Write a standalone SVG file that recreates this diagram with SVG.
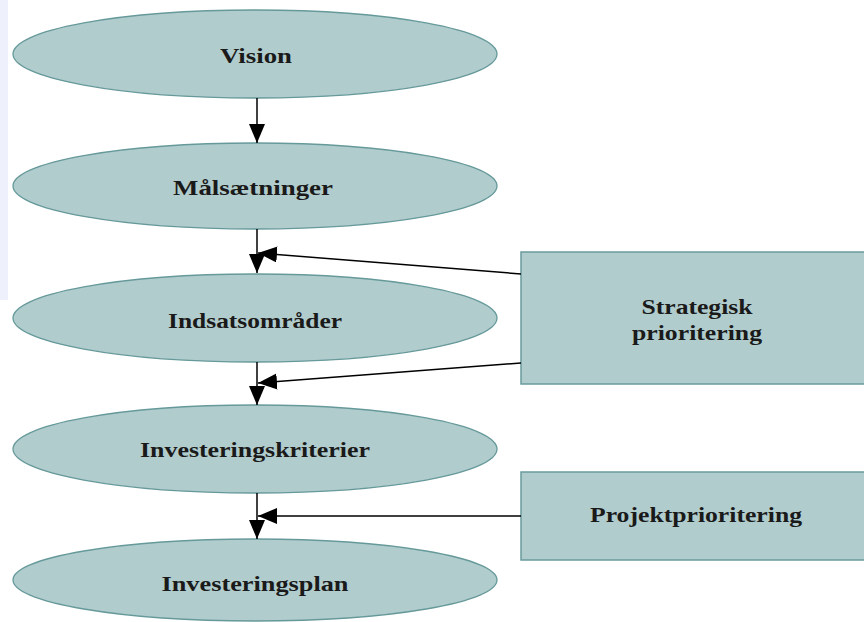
<svg xmlns="http://www.w3.org/2000/svg" width="864" height="622" viewBox="0 0 864 622">
<style>
.ell{fill:#b1cccd;stroke:#66999a;stroke-width:1.3}
.box{fill:#b1cccd;stroke:#6a9b9c;stroke-width:1.5}
.lbl{font-family:"Liberation Serif","DejaVu Serif",serif;font-weight:bold;font-size:22px;fill:#1a1a1a;text-anchor:middle}
.con{stroke:#000;stroke-width:1.5;fill:none}
</style>
<defs>
<marker id="ah" markerUnits="userSpaceOnUse" markerWidth="20" markerHeight="18" refX="19" refY="8" orient="auto">
<path d="M0,0 L19,8 L0,16 Z" fill="#000"/>
</marker>
</defs>
<rect x="0" y="0" width="8" height="300" fill="#eef0fb"/>
<g id="n-vision"><ellipse class="ell" cx="255" cy="54" rx="242" ry="44"/><text class="lbl" x="256" y="63" textLength="72" lengthAdjust="spacingAndGlyphs">Vision</text></g>
<g id="n-malsaetninger"><ellipse class="ell" cx="255" cy="186" rx="242" ry="43"/><text class="lbl" x="253" y="195" textLength="160" lengthAdjust="spacingAndGlyphs">Målsætninger</text></g>
<g id="n-indsatsomrader"><ellipse class="ell" cx="255" cy="318" rx="242" ry="44"/><text class="lbl" x="255" y="328" textLength="174" lengthAdjust="spacingAndGlyphs">Indsatsområder</text></g>
<g id="n-investeringskriterier"><ellipse class="ell" cx="255" cy="449" rx="242" ry="44"/><text class="lbl" x="255" y="457" textLength="230" lengthAdjust="spacingAndGlyphs">Investeringskriterier</text></g>
<g id="n-investeringsplan"><ellipse class="ell" cx="255" cy="580" rx="242" ry="41"/><text class="lbl" x="255" y="591" textLength="187" lengthAdjust="spacingAndGlyphs">Investeringsplan</text></g>
<g id="n-strategisk"><rect class="box" x="521" y="252" width="360" height="132"/><text class="lbl" x="697" y="314" textLength="111" lengthAdjust="spacingAndGlyphs">Strategisk</text><text class="lbl" x="697" y="340" textLength="130" lengthAdjust="spacingAndGlyphs">prioritering</text></g>
<g id="n-projekt"><rect class="box" x="521" y="472" width="360" height="88"/><text class="lbl" x="696" y="522" textLength="212" lengthAdjust="spacingAndGlyphs">Projektprioritering</text></g>
<g id="connectors">
<line class="con" x1="257" y1="98" x2="257" y2="143" marker-end="url(#ah)"/>
<line class="con" x1="257" y1="229" x2="257" y2="273" marker-end="url(#ah)"/>
<line class="con" x1="257" y1="362" x2="257" y2="405" marker-end="url(#ah)"/>
<line class="con" x1="257" y1="493" x2="257" y2="539" marker-end="url(#ah)"/>
<line class="con" x1="521" y1="274" x2="258" y2="253" marker-end="url(#ah)"/>
<line class="con" x1="521" y1="363" x2="258" y2="383" marker-end="url(#ah)"/>
<line class="con" x1="521" y1="516" x2="258" y2="516" marker-end="url(#ah)"/>
</g>
</svg>
